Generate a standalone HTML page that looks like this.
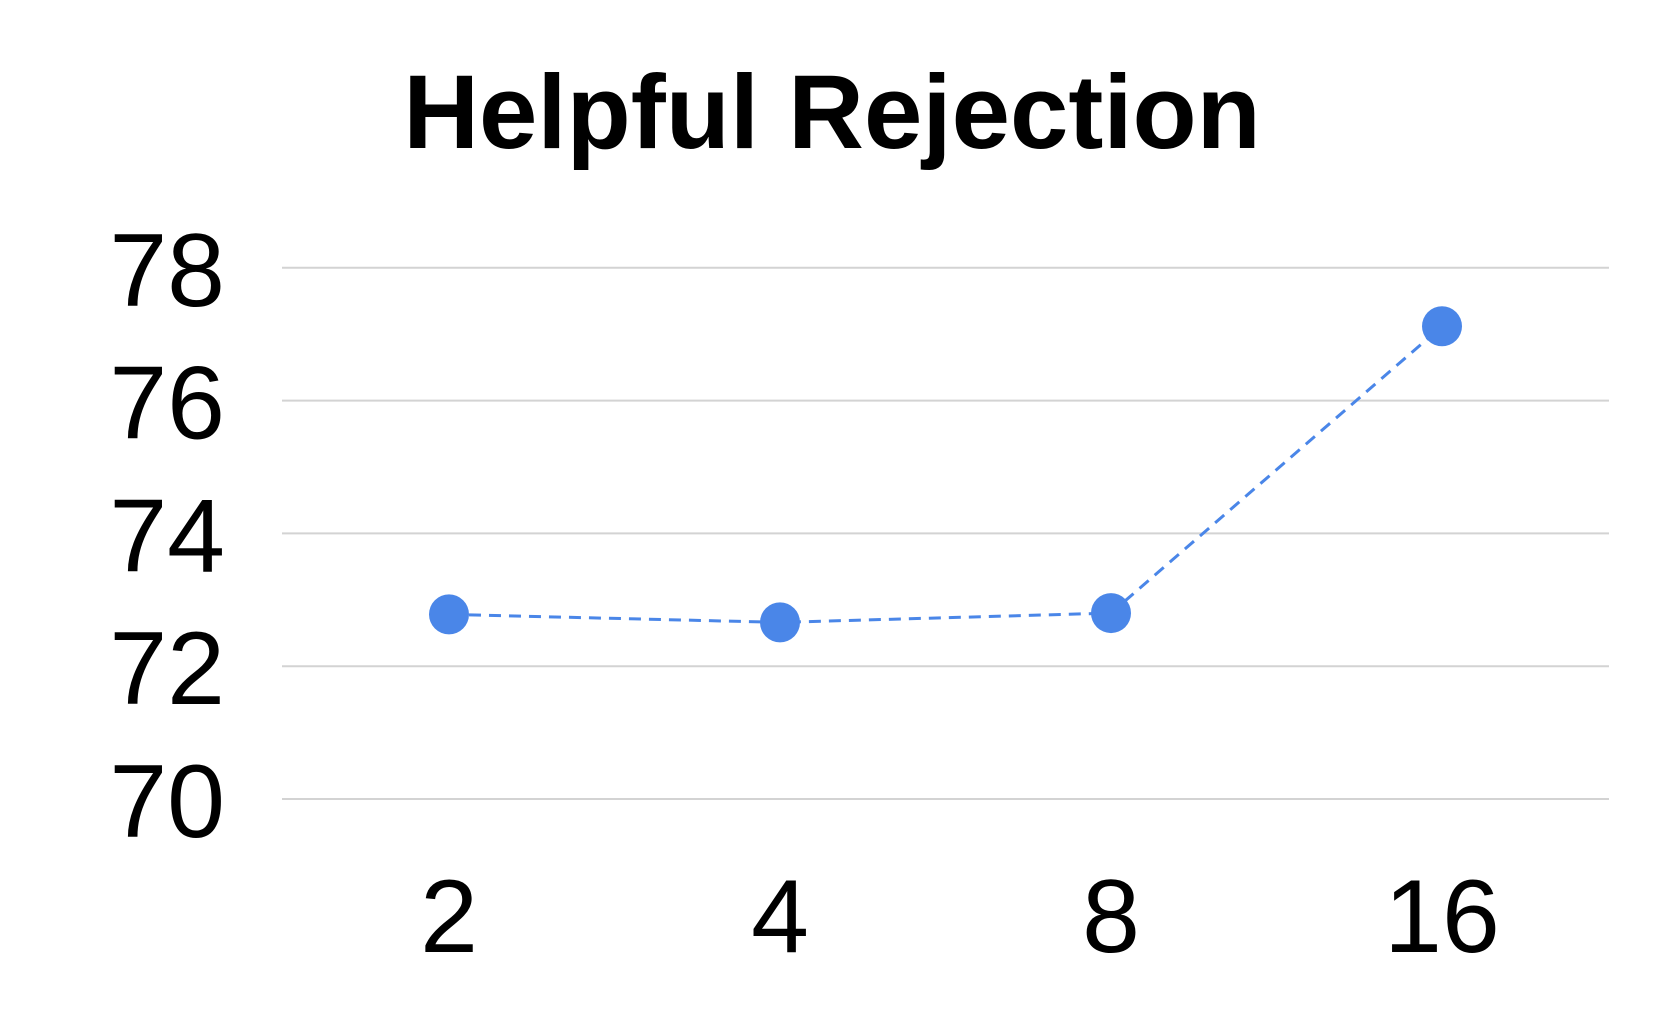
<!DOCTYPE html>
<html><head><meta charset="utf-8"><style>
html,body{margin:0;padding:0;background:#fff;}
svg{display:block;font-family:"Liberation Sans",Arial,sans-serif;}
</style></head><body>
<svg id="chart" width="1661" height="1028" viewBox="0 0 1661 1028">
<text x="832" y="148" text-anchor="middle" font-size="105" font-weight="bold">Helpful Rejection</text>
<g id="grid"></g><g id="yt"></g><g id="xt"></g><g id="series"></g>
</svg>
<script>
const categories = ["2","4","8","16"];
const values = [72.78, 72.66, 72.8, 77.12];
const yTicks = [70,72,74,76,78];
const NS="http://www.w3.org/2000/svg";
const left=282,right=1609,y0=799,yPer=66.4;
const ys=v=>y0-(v-70)*yPer;
const xs=i=>449+i*331;
function mk(t,a,p){const e=document.createElementNS(NS,t);for(const k in a)e.setAttribute(k,a[k]);p.appendChild(e);return e;}
const grid=document.getElementById('grid'),yt=document.getElementById('yt'),xt=document.getElementById('xt'),ser=document.getElementById('series');
yTicks.forEach(v=>{
  const l=mk('line',{x1:left,x2:right,y1:ys(v),y2:ys(v),stroke:'#d3d3d3','stroke-width':2},grid);
  
  
  const t=mk('text',{x:225,y:ys(v)+38,'text-anchor':'end','font-size':104},yt);
  t.textContent=v;
  
  
});
categories.forEach((c,i)=>{
  const t=mk('text',{x:xs(i),y:952,'text-anchor':'middle','font-size':104},xt);
  t.textContent=c;
  
  
});
const pl=mk('polyline',{points:values.map((v,i)=>xs(i)+','+ys(v)).join(' '),fill:'none',stroke:'#4a86e8','stroke-width':3,'stroke-dasharray':'12 8'},ser);


values.forEach((v,i)=>{
  const c=mk('circle',{cx:xs(i),cy:ys(v),r:20,fill:'#4a86e8'},ser);
  
  
});
</script>
</body></html>
